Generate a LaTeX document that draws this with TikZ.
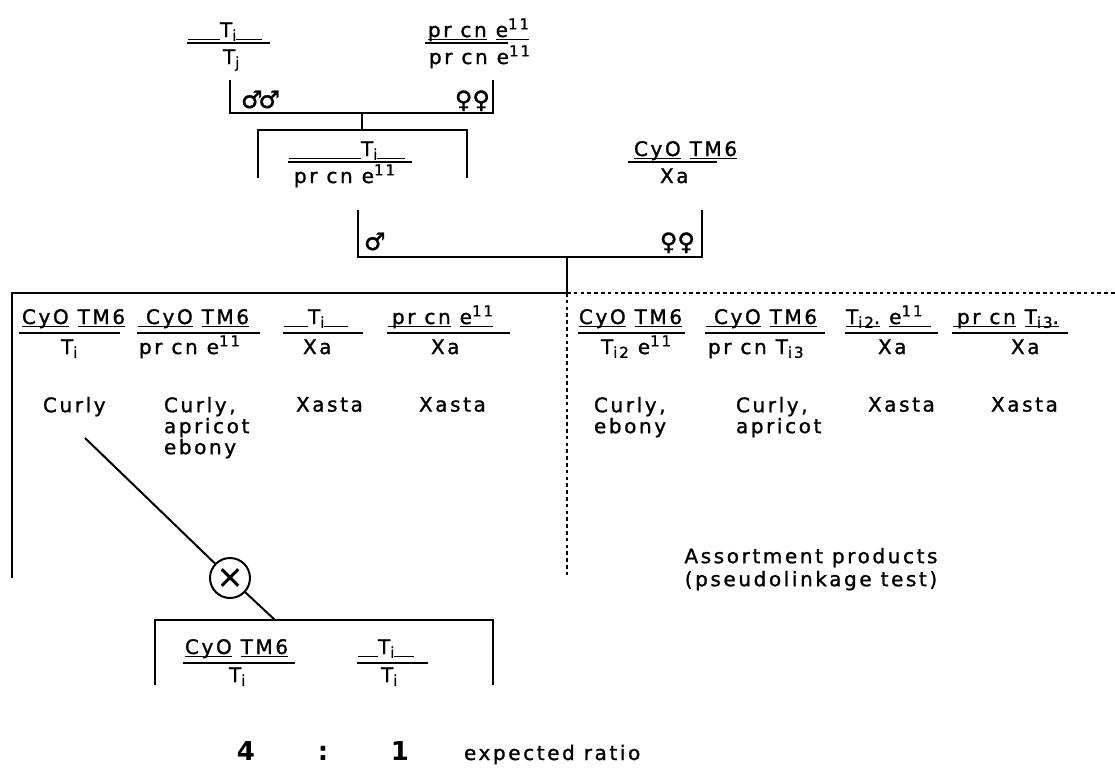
\documentclass[tikz,border=0pt]{standalone}
\usepackage{fontspec}
\setmainfont{DejaVu Sans}
\newfontfamily\pf[LetterSpace=13,FakeBold=1.2]{DejaVu Sans}
\newfontfamily\symf[FakeBold=1.2]{DejaVu Sans}
\newcommand\ul[1]{\underline{\smash{#1}}}
\newcommand\sbs[1]{\raisebox{-0.35ex}{\fontsize{7.5}{8}\selectfont #1}}
\newcommand\spx[1]{\raisebox{0.7ex}{\fontsize{7.5}{8}\selectfont #1}}
\newcommand\setrow[3]{\def\yn{#1}\def\yd{#2}\def\yl{#3}}
\newcommand\geno[7]{%
  \node[gt,anchor=base west] (#1n) at (#2,\yn) {#6};
  \node[gt,anchor=base west] (#1d) at (#3,\yd) {#7};
  \draw[fracline] (#4,\yl) -- (#5,\yl);}
\begin{document}
\begin{tikzpicture}[x=0.5pt,y=-0.5pt,line width=1pt,
  gt/.style={font=\pf\fontsize{10}{12}\selectfont,inner sep=0pt},
  pt/.style={font=\pf\fontsize{10}{10.5}\selectfont,inner sep=0pt,align=left,anchor=north west},
  sx/.style={font=\symf\fontsize{12}{12}\selectfont,inner sep=0pt},
  fracline/.style={line width=1pt},
  dotline/.style={line width=1pt,dash pattern=on 1.8pt off 1.6pt},
  selfing/.style={circle,draw,line width=1pt,minimum size=20pt,inner sep=0pt,font=\symf\fontsize{16}{16}\selectfont}]
\useasboundingbox (0,0) rectangle (1115,776);

% ---- parents
\setrow{37}{64}{43}
\geno{pa}{187}{222}{187}{270}{\ul{\hspace{16pt}}T\sbs{i}\ul{\hspace{13pt}}}{T\sbs{j}}
\geno{pb}{427}{428}{425}{508}{\ul{pr cn} \ul{e\spx{11}}}{pr cn e\spx{11}}

\draw (230,80) -- (230,113) -- (493,113) -- (493,80);
\node[sx,anchor=base west] (m1) at (240,108) {♂\kern-2pt♂};
\node[sx,anchor=base east] (f1) at (491,108) {♀♀};
\coordinate (d1a) at (362,113);
\coordinate (d1b) at (362,130);
\draw (d1a) -- (d1b);

% ---- F1
\draw (258,178) -- (258,130) -- (467,130) -- (467,178);
\setrow{156}{183}{162}
\geno{fa}{288}{293}{288}{412}{\ul{\hspace{36pt}}T\sbs{i}\ul{\hspace{14pt}}}{pr cn e\spx{11}}
\geno{fb}{633}{659}{628}{717}{\ul{CyO} \ul{TM6}}{Xa}

\draw (358,210) -- (358,257) -- (702,257) -- (702,210);
\node[sx,anchor=base west] (m2) at (363,250) {♂};
\node[sx,anchor=base east] (f2) at (696,250) {♀♀};
\coordinate (d2a) at (567,257);
\coordinate (d2b) at (567,293);
\draw (d2a) -- (d2b);

% ---- offspring frame
\draw (12,578) -- (12,293) -- (d2b);
\draw[dotline] (d2b) -- (1115,293);
\draw[dotline] (d2b) -- (567,578);

\setrow{324}{354}{333}
\geno{c1}{21}{60}{19}{120}{\ul{CyO} \ul{TM6}}{T\sbs{i}}
\geno{c2}{137}{138}{137}{260}{\ul{\hspace{4pt}CyO} \ul{TM6}}{pr cn e\spx{11}}
\geno{c3}{283}{302}{283}{363}{\ul{\hspace{12pt}}T\sbs{i}\ul{\hspace{12pt}}}{Xa}
\geno{c4}{387}{430}{387}{510}{\ul{\hspace{2pt}pr cn} \ul{e\spx{11}}}{Xa}
\geno{c5}{578}{600}{578}{685}{\ul{CyO} \ul{TM6}}{T\sbs{i2} e\spx{11}}
\geno{c6}{705}{707}{705}{825}{\ul{\hspace{4pt}CyO} \ul{TM6}}{pr cn T\sbs{i3}}
\geno{c7}{845}{877}{845}{938}{\ul{T\sbs{i2}.} \ul{e\spx{11}\hspace{4pt}}}{Xa}
\geno{c8}{952}{1010}{952}{1068}{\ul{\hspace{2pt}pr cn} \ul{T\sbs{i3}.}}{Xa}

\node[pt] (p1) at (42,396) {Curly};
\node[pt] (p2) at (163,396) {Curly,\\apricot\\ebony};
\node[pt] (p3) at (295,396) {Xasta};
\node[pt] (p4) at (418,396) {Xasta};
\node[pt] (p5) at (593,396) {Curly,\\ebony};
\node[pt] (p6) at (735,396) {Curly,\\apricot};
\node[pt] (p7) at (867,396) {Xasta};
\node[pt] (p8) at (990,396) {Xasta};

\node[font=\pf\fontsize{10}{11.5}\selectfont,inner sep=0pt,align=center,anchor=north] (assort) at (811,547) {Assortment products\\(pseudolinkage test)};

% ---- selfing
\coordinate (cs) at (85,438);
\node[selfing] (x) at (230,578) {×};
\coordinate (bt) at (275,620);
\draw (cs) -- (x);
\draw (x) -- (bt);

\draw (155,685) -- (155,620) -- (493,620) -- (493,685);
\setrow{654}{682}{663}
\geno{b1}{184}{228}{183}{295}{\ul{CyO} \ul{TM6}}{T\sbs{i}}
\geno{b2}{357}{380}{357}{428}{\ul{\hspace{10pt}}T\sbs{i}\ul{\hspace{10pt}}}{T\sbs{i}}

% ---- ratio
\node[font=\rmfamily\bfseries\fontsize{13}{13}\selectfont,inner sep=0pt,anchor=base] (r4) at (246,760) {4};
\node[font=\rmfamily\bfseries\fontsize{13}{13}\selectfont,inner sep=0pt,anchor=base] (rc) at (323,760) {:};
\node[font=\rmfamily\bfseries\fontsize{13}{13}\selectfont,inner sep=0pt,anchor=base] (r1) at (400,760) {1};
\node[gt,anchor=base west] (er) at (463,760) {expected ratio};
\end{tikzpicture}
\end{document}
